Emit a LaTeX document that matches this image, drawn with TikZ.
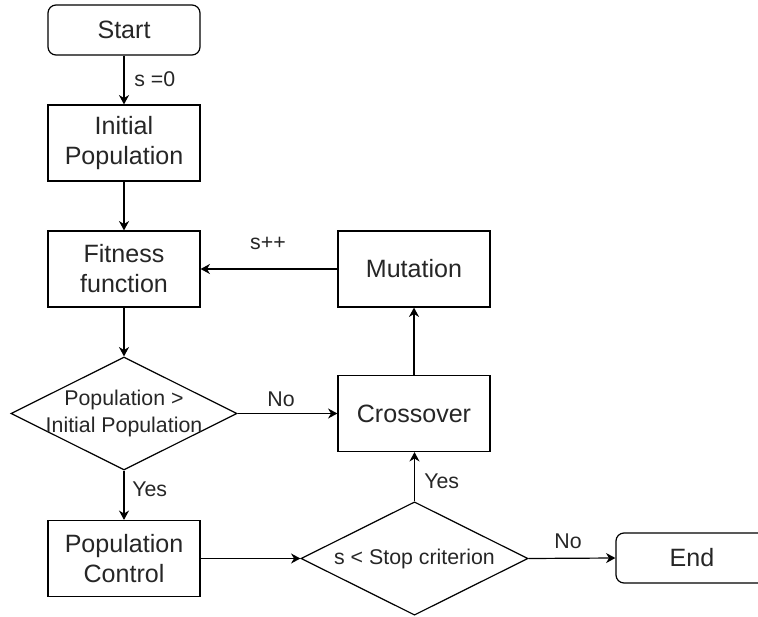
\documentclass[tikz,border=0pt]{standalone}
\usepackage{fontspec}
\setmainfont{Liberation Sans}
\usetikzlibrary{shapes.geometric,arrows.meta}
\definecolor{ink}{HTML}{262626}
\begin{document}
\begin{tikzpicture}[x=0.75pt,y=-0.75pt,
  every node/.style={text=ink},
  box/.style={draw=black,line width=0.9pt,minimum width=114pt,minimum height=57pt,
    inner sep=0pt,align=center,font=\fontsize{18.8}{22.5}\selectfont},
  term/.style={box,rounded corners=6pt,minimum height=37.5pt},
  dia/.style={draw=black,line width=0.9pt,diamond,inner sep=0pt,aspect=2},
  diatext/.style={align=center,font=\fontsize{16}{20}\selectfont},
  lbl/.style={font=\fontsize{16}{18}\selectfont,inner sep=0pt},
  flow/.style={draw=black,line width=0.9pt,-{Stealth[length=7pt,width=7.5pt,inset=2.2pt]}}]
\useasboundingbox (0,0) rectangle (758,617);

% process boxes and terminals
\node[term] (start) at (124,30) {Start};
\node[box] (init) at (124,143) {Initial\\Population};
\node[box] (fit) at (124,269) {Fitness\\function};
\node[box] (mut) at (414,269) {Mutation};
\node[box] (cross) at (414,413.5) {Crossover};
\node[box] (pc) at (124,558.5) {Population\\Control};
\node[term] (end) at (692,558) {End};

% decisions
\node[dia,minimum width=169.5pt,minimum height=84.75pt] (d1) at (124,413.5) {};
\node[diatext] at (d1.center) {Population >\\Initial Population};
\node[dia,minimum width=170.25pt,minimum height=85pt] (d2) at (414.5,558.5) {};
\node[diatext] at (d2.center) {s < Stop criterion};

% connectors
\draw[flow] (start) -- (init);
\draw[flow] (init) -- (fit);
\draw[flow] (fit) -- (d1.north);
\draw[flow] (d1.east) -- (d1.east -| cross.west);
\draw[flow] (d1.south) -- (pc);
\draw[flow] (pc.east) -- (d2.west);
\draw[flow] (d2.north) -- (d2.north |- cross.south);
\draw[flow] (d2.east) -- (end.west);
\draw[flow] (cross) -- (mut);
\draw[flow] (mut.west) -- (fit.east);

% connector labels
\node[lbl,anchor=west] (l1) at (134,79) {s =0};
\node[lbl] (l2) at (268,243) {s++};
\node[lbl] (l3) at (281,399) {No};
\node[lbl,anchor=west] (l4) at (132,489) {Yes};
\node[lbl,anchor=west] (l5) at (424,481) {Yes};
\node[lbl] (l6) at (568,541) {No};
\end{tikzpicture}
\end{document}
